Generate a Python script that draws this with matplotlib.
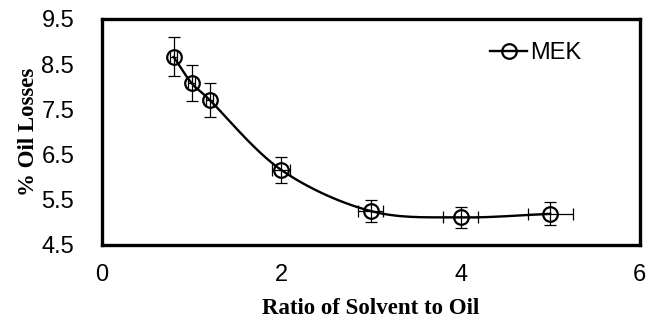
import numpy as np
import matplotlib.pyplot as plt

# data
ratio = [0.8, 1.0, 1.2, 2.0, 3.0, 4.0, 5.0]
oil_loss = [8.66, 8.08, 7.71, 6.16, 5.25, 5.11, 5.19]
y_err = [0.43, 0.40, 0.37, 0.28, 0.24, 0.24, 0.25]
x_err = [0.04, 0.04, 0.04, 0.10, 0.14, 0.20, 0.25]


def smooth_curve(x, y, n=30):
    # Catmull-Rom style smoothing, like a spreadsheet "smoothed line"
    x = np.asarray(x, float)
    y = np.asarray(y, float)
    px = np.concatenate([[2 * x[0] - x[1]], x, [2 * x[-1] - x[-2]]])
    py = np.concatenate([[2 * y[0] - y[1]], y, [2 * y[-1] - y[-2]]])
    xs, ys = [], []
    t = np.linspace(0, 1, n)
    for i in range(1, len(px) - 2):
        for arr, out in ((px, xs), (py, ys)):
            p0, p1, p2, p3 = arr[i - 1], arr[i], arr[i + 1], arr[i + 2]
            m1 = (p2 - p0) / 6
            m2 = (p3 - p1) / 6
            b = ((1 - t) ** 3 * p1 + 3 * (1 - t) ** 2 * t * (p1 + m1)
                 + 3 * (1 - t) * t ** 2 * (p2 - m2) + t ** 3 * p2)
            out.extend(b)
    return np.array(xs), np.array(ys)


fig = plt.figure(figsize=(6.6, 3.3), dpi=100)
ax = fig.add_axes([0.1545, 0.2576, 0.815, 0.685])

sx, sy = smooth_curve(ratio, oil_loss)
ax.plot(sx, sy, color="black", lw=1.7, zorder=2)
ax.errorbar(ratio, oil_loss, yerr=y_err, xerr=x_err, fmt="none",
            ecolor="black", elinewidth=0.9, capsize=4.5, capthick=0.9, zorder=3)
ax.plot(ratio, oil_loss, "o", ms=10.5, mfc="none", mec="black", mew=1.6, zorder=4)

# legend entry: line with marker
ax.plot([], [], "-o", color="black", lw=1.7, ms=10.5, mfc="none", mew=1.6, label="MEK")
ax.legend(loc="upper right", bbox_to_anchor=(0.93, 0.99), frameon=False,
          prop={"family": "Liberation Sans", "size": 17},
          handlelength=1.6, handletextpad=0.1)

ax.set_xlim(0, 6)
ax.set_ylim(4.5, 9.5)
ax.set_xticks([0, 2, 4, 6])
ax.set_yticks([4.5, 5.5, 6.5, 7.5, 8.5, 9.5])
ax.tick_params(length=0, labelsize=17)
ax.tick_params(axis="x", pad=14)
ax.tick_params(axis="y", pad=20)
for lab in ax.get_xticklabels() + ax.get_yticklabels():
    lab.set_family("Liberation Sans")
for s in ax.spines.values():
    s.set_linewidth(2.4)

ax.set_xlabel("Ratio of Solvent to Oil", family="Liberation Serif",
              fontweight="bold", fontsize=16.5, labelpad=8)
ax.set_ylabel("% Oil Losses", family="Liberation Serif",
              fontweight="bold", fontsize=16.5, labelpad=2)

fig.savefig("out.png", dpi=100)
